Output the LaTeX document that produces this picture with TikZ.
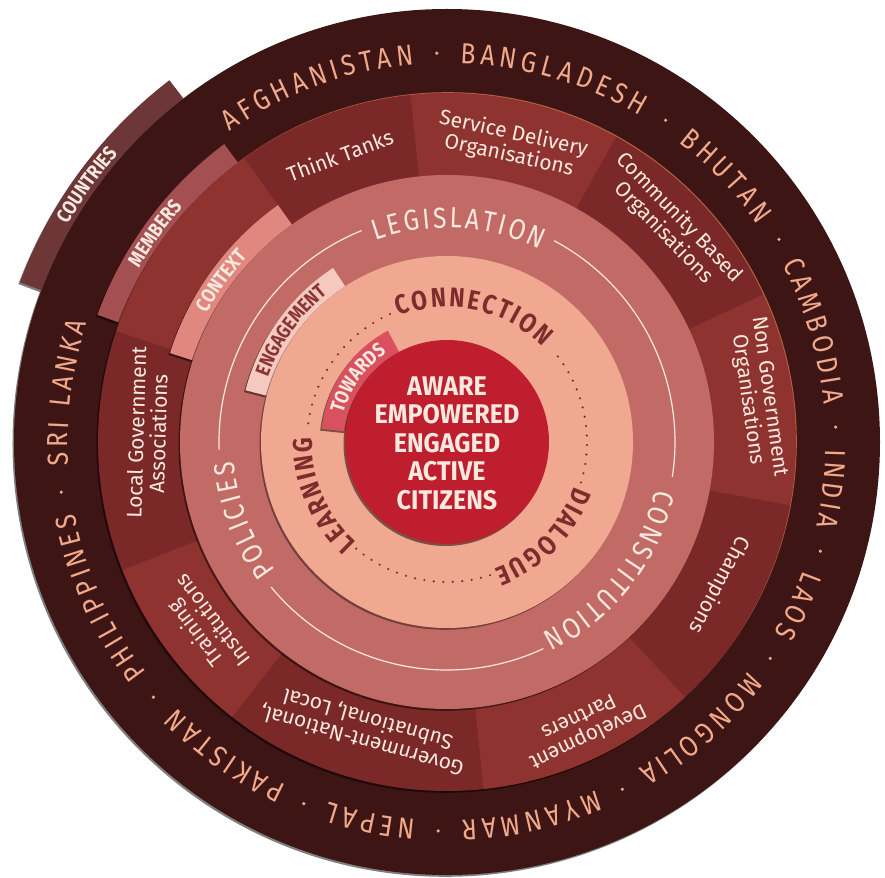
\documentclass[tikz,border=0pt]{standalone}
\usepackage{fontspec}
\usetikzlibrary{decorations.text}
\newfontfamily\thinfont[FakeStretch=0.85]{Fira Sans}
\newfontfamily\labelfont{Fira Sans}
\newfontfamily\condfont[FakeStretch=0.85]{Fira Sans}
\newfontfamily\widecondfont[FakeStretch=0.93]{Fira Sans}
\definecolor{ringdark}{HTML}{3C1514}
\definecolor{countrytext}{HTML}{F2A98A}
\definecolor{countrytab}{HTML}{6E3737}
\definecolor{memberlight}{HTML}{8F3331}
\definecolor{memberdark}{HTML}{7A2928}
\definecolor{membertab}{HTML}{A44F52}
\definecolor{memberline}{HTML}{B5633F}
\definecolor{cream}{HTML}{F8E9DF}
\definecolor{policyring}{HTML}{C26B66}
\definecolor{contexttab}{HTML}{E0877F}
\definecolor{peachring}{HTML}{F0A890}
\definecolor{engagetab}{HTML}{F5C9C0}
\definecolor{engagetext}{HTML}{8A3535}
\definecolor{dialtext}{HTML}{7E2B2C}
\definecolor{citizenred}{HTML}{BE1E2D}
\definecolor{towardstab}{HTML}{D9505F}
\newcommand\countryfont{\thinfont\fontsize{29}{30}\selectfont}
\newcommand\policyfont{\thinfont\fontsize{29}{30}\selectfont}
\newcommand\memberfont{\labelfont\fontsize{21}{22}\selectfont}
\newcommand\dialfont{\condfont\bfseries\fontsize{27}{28}\selectfont}
\newcommand\tabfont{\condfont\bfseries\fontsize{20}{21}\selectfont}
\newcommand\centrefont{\widecondfont\bfseries\fontsize{27}{28.5}\selectfont}
% text on a clockwise arc: radius, from, to, font, colour, text
\newcommand{\arctext}[6]{%
  \path[decorate,decoration={text along path,text align={fit to path},
    text color=#5,text={|#4|#6}}] (#2:#1) arc[start angle=#2,end angle=#3,radius=#1];}
% tab label: radius, half span, colour, text
\newcommand{\tabtext}[4]{%
  \path[decorate,decoration={text along path,text align=center,
    text color=#3,text={|\tabfont|#4}}] (144.5+#2:#1) arc[start angle=144.5+#2,end angle=144.5-#2,radius=#1];}
% tab band with its shadow: inner, outer, from, to, colour
\newcommand{\tabband}[5]{%
  \fill[black,opacity=.5,shift={(-1.5,-1.8)}] (#3:#2) arc[start angle=#3,end angle=#4,radius=#2]
    -- (#4:#1) arc[start angle=#4,end angle=#3,radius=#1] -- cycle;
  \fill[#5] (#3:#2) arc[start angle=#3,end angle=#4,radius=#2]
    -- (#4:#1) arc[start angle=#4,end angle=#3,radius=#1] -- cycle;}
\begin{document}
\begin{tikzpicture}[x=1pt,y=1pt,
  discshadow/.style={fill=black,opacity=.5},
  memberlabel/.style={text=cream,font=\memberfont,align=center,inner sep=0pt},
  dotring/.style={dialtext,line width=2.4,line cap=round,dash pattern=on 0pt off 9.5pt}]
\useasboundingbox (-447,-435) rectangle (438,442);

% countries
\fill[discshadow] (-1.5,-1.8) circle (433);
\fill[ringdark] (0,0) circle (433);
\tabband{433}{456}{159.5}{127.5}{countrytab}
\tabtext{437.5}{20}{cream}{COUNTRIES}
\arctext{379}{125}{95}{\countryfont}{countrytext}{AFGHANISTAN}
\arctext{379}{88}{59.3}{\countryfont}{countrytext}{BANGLADESH}
\arctext{379}{52.3}{34.9}{\countryfont}{countrytext}{BHUTAN}
\arctext{379}{27.9}{5.7}{\countryfont}{countrytext}{CAMBODIA}
\arctext{379}{-1.2}{-12.8}{\countryfont}{countrytext}{INDIA}
\arctext{379}{-19.8}{-30.3}{\countryfont}{countrytext}{LAOS}
\arctext{379}{-37.3}{-59.7}{\countryfont}{countrytext}{MONGOLIA}
\arctext{379}{-66.7}{-87.8}{\countryfont}{countrytext}{MYANMAR}
\arctext{379}{-94.8}{-108.1}{\countryfont}{countrytext}{NEPAL}
\arctext{379}{-115.1}{-135.5}{\countryfont}{countrytext}{PAKISTAN}
\arctext{379}{-142.5}{-169.1}{\countryfont}{countrytext}{PHILIPPINES}
\arctext{379}{-176.5}{-198.3}{\countryfont}{countrytext}{SRI LANKA}
\foreach \a in {91.5,55.8,31.4,2.2,-16.3,-33.8,-63.2,-91.3,-111.6,-139,-172.6}
  \fill[countrytext] (\a:389) circle (1.8);

% members
\tabband{349}{372}{160}{126.8}{membertab}
\tabtext{353.5}{22}{cream}{MEMBERS}
\fill[memberline] (0.8,0.8) circle (349);
\fill[discshadow] (-1.5,-1.8) circle (349);
\foreach \a/\b/\c in {125.5/161.5/memberlight, 96/125.5/memberdark, 61/96/memberlight,
  25/61/memberdark, -10.5/25/memberlight, -47/-10.5/memberdark, -84/-47/memberlight,
  -128/-84/memberdark, -158.5/-128/memberlight, -198.5/-158.5/memberdark}
  \fill[\c] (0,0) -- (\a:349) arc[start angle=\a,end angle=\b,radius=349] -- cycle;
\node[memberlabel,rotate=20.5] (thinktanks) at (110.5:306) {Think Tanks};
\node[memberlabel,rotate=-12.2] (servicedelivery) at (77.8:304) {Service Delivery\\Organisations};
\node[memberlabel,rotate=-46] (community) at (44:312) {Community Based\\Organisations};
\node[memberlabel,rotate=-82] (nongov) at (8:314) {Non Government\\Organisations};
\node[memberlabel,rotate=-117.7] (champions) at (-27.7:307) {Champions};
\node[memberlabel,rotate=-154.4] (development) at (-64.4:317) {Development\\Partners};
\node[memberlabel,rotate=164.1] (government) at (-105.9:299) {Government-National,\\Subnational, Local};
\node[memberlabel,rotate=127.3] (training) at (-142.7:306) {Training\\Institutions};
\node[memberlabel,rotate=88.3] (localgov) at (178.3:300) {Local Government\\Associations};

% context
\tabband{267}{291}{162.2}{125.5}{contexttab}
\tabtext{272.5}{25}{cream}{CONTEXT}
\fill[discshadow] (-1.5,-1.8) circle (267);
\fill[policyring] (0,0) circle (267);
\draw[cream,line width=1.2] (112:228) arc[start angle=112,end angle=182,radius=228];
\draw[cream,line width=1.2] (219.5:228) arc[start angle=219.5,end angle=295,radius=228];
\draw[cream,line width=1.2] (351.2:228) arc[start angle=351.2,end angle=422,radius=228];
\arctext{214}{109.5}{64.2}{\policyfont}{cream}{LEGISLATION}
\arctext{214}{-12.7}{-63.6}{\policyfont}{cream}{CONSTITUTION}
\arctext{214}{216.9}{185.2}{\policyfont}{cream}{POLICIES}

% engagement
\tabband{186}{208}{165.6}{123.2}{engagetab}
\tabtext{190.5}{35}{engagetext}{ENGAGEMENT}
\fill[discshadow,opacity=.4] (-1.5,-1.8) circle (186);
\fill[peachring] (0,0) circle (186);
\draw[dotring] (-16.8:140) arc[start angle=-16.8,end angle=41,radius=140];
\draw[dotring] (229.6:140) arc[start angle=229.6,end angle=289,radius=140];
\draw[dotring] (114:140) arc[start angle=114,end angle=174,radius=140];
\arctext{135}{111}{44.7}{\dialfont}{dialtext}{CONNECTION}
\arctext{135}{-19.2}{-69.7}{\dialfont}{dialtext}{DIALOGUE}
\arctext{135}{228}{178}{\dialfont}{dialtext}{LEARNING}

% towards
\tabband{102}{126}{174}{118}{towardstab}
\tabtext{107.5}{45}{cream}{TOWARDS}
\fill[discshadow] (-1.5,-2) circle (102);
\fill[citizenred] (0,0) circle (102);
\node[text=cream,font=\centrefont,align=center,inner sep=0pt] (citizens) at (0,-1)
  {AWARE\\EMPOWERED\\ENGAGED\\ACTIVE\\CITIZENS};
\end{tikzpicture}
\end{document}
